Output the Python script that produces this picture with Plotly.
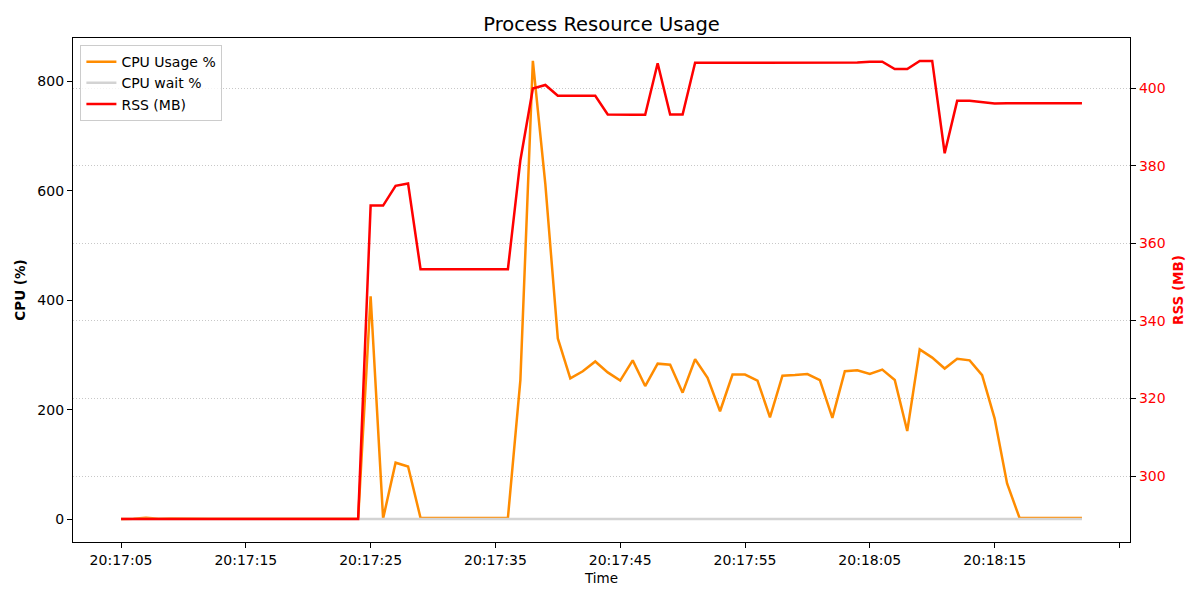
import pandas as pd
import plotly.graph_objects as go

# one sample per second starting at 20:17:05
start = "2024-01-01 20:17:05"
n_samples = 78

cpu_usage = [0, 0.5, 2.5, 0.5, 1, 0.5, 0.5, 0.5, 0.5, 0.5,
             1, 0.5, 0.5, 1, 1, 0.5, 0.5, 1, 0.5, 0.5,
             407, 1, 103, 96, 2, 2, 2.5, 3, 2.5, 2,
             2, 2, 254, 837, 612, 330, 257, 270, 288, 268,
             253, 290, 243, 284, 282, 231, 292, 258, 197, 264,
             264, 253, 186, 262, 263, 265, 254, 185, 270, 272,
             265, 273, 254, 161, 310, 295, 275, 293, 290, 263,
             184, 65, 2, 2, 3, 2, 2, 2]

cpu_wait = [0, 0, 0, 0, 0, 0, 0, 0, 0, 0,
            0, 0, 0, 0, 0, 0, 0, 0, 0, 0,
            0, 0, 0, 0, 0, 0, 0, 0, 0, 0,
            0, 0, 0, 0, 0, 0, 0, 0, 0, 0,
            0, 0, 0, 0, 0, 0, 0, 0, 0, 0,
            0, 0, 0, 0, 0, 0, 0, 0, 0, 0,
            0, 0, 0, 0, 0, 0, 0, 0, 0, 0,
            0, 0, 0, 0, 0, 0, 0, 0]

rss_mb = [288.9, 288.9, 288.9, 288.9, 288.9, 288.9, 288.9, 288.9, 288.9, 288.9,
          288.9, 288.9, 288.9, 288.9, 288.9, 288.9, 288.9, 288.9, 288.9, 288.9,
          369.7, 369.7, 374.8, 375.4, 353.3, 353.3, 353.3, 353.3, 353.3, 353.3,
          353.3, 353.3, 381.4, 399.9, 400.8, 398.0, 398.0, 398.0, 398.0, 393.2,
          393.1, 393.1, 393.1, 406.4, 393.2, 393.2, 406.5, 406.5, 406.5, 406.5,
          406.5, 406.5, 406.5, 406.5, 406.5, 406.5, 406.5, 406.5, 406.5, 406.6,
          406.8, 406.8, 404.9, 404.9, 407.0, 407.0, 383.2, 396.7, 396.7, 396.4,
          396.0, 396.1, 396.1, 396.1, 396.1, 396.1, 396.1, 396.1]

tick_times = ["20:17:05", "20:17:15", "20:17:25", "20:17:35", "20:17:45",
              "20:17:55", "20:18:05", "20:18:15", "20:18:25"]
tick_labels = ["20:17:05", "20:17:15", "20:17:25", "20:17:35", "20:17:45",
               "20:17:55", "20:18:05", "20:18:15", ""]

times = pd.date_range(start, periods=n_samples, freq="1s")
day = "2024-01-01 "

font = "DejaVu Sans, Arial, sans-serif"

fig = go.Figure()
fig.add_scatter(x=times, y=cpu_usage, mode="lines", name="CPU Usage %",
                line=dict(color="darkorange", width=2.5))
fig.add_scatter(x=times, y=cpu_wait, mode="lines", name="CPU wait %",
                line=dict(color="lightgrey", width=2.5))
fig.add_scatter(x=times, y=rss_mb, mode="lines", name="RSS (MB)", yaxis="y2",
                line=dict(color="red", width=2.5))

# page body adds 8px, so margins are shifted to land the plot box where it should be
fig.update_layout(
    width=1200, height=600,
    margin=dict(l=63, r=78, t=30, b=66),
    paper_bgcolor="white", plot_bgcolor="white",
    font=dict(family=font, size=14, color="black"),
    title=dict(text="Process Resource Usage", x=0.5, xref="paper",
               y=0.973, yanchor="middle", font=dict(size=19.5)),
    xaxis=dict(
        type="date",
        range=[day + "20:17:01.15", day + "20:18:25.85"],
        tickvals=[day + t for t in tick_times], ticktext=tick_labels,
        showgrid=False, zeroline=False,
        showline=True, linecolor="black", linewidth=1.2, mirror=True,
        ticks="outside", ticklen=5, tickcolor="black",
        title=dict(text="Time", standoff=6, font=dict(size=13.5)),
    ),
    yaxis=dict(
        range=[-41.85, 878.85],
        tickvals=[0, 200, 400, 600, 800],
        showgrid=False, zeroline=False,
        showline=True, linecolor="black", linewidth=1.2,
        ticks="outside", ticklen=5, tickcolor="black",
        title=dict(text="<b>CPU (%)</b>", standoff=8, font=dict(size=13.5)),
    ),
    yaxis2=dict(
        overlaying="y", side="right",
        range=[283.0, 412.9],
        tickvals=[300, 320, 340, 360, 380, 400],
        tickfont=dict(color="red"),
        showgrid=True, gridcolor="#c8c8c8", griddash="1px,2px", gridwidth=1,
        zeroline=False,
        showline=True, linecolor="black", linewidth=1.2,
        ticks="outside", ticklen=5, tickcolor="black",
        title=dict(text="<b>RSS (MB)</b>", font=dict(color="red", size=13.5),
                   standoff=8),
    ),
    legend=dict(
        x=0.007, y=0.986, xanchor="left", yanchor="top",
        bgcolor="rgba(255,255,255,0.8)", bordercolor="#cccccc", borderwidth=1,
        font=dict(size=14), tracegroupgap=0,
    ),
    showlegend=True,
)

fig.write_html("out.html")
